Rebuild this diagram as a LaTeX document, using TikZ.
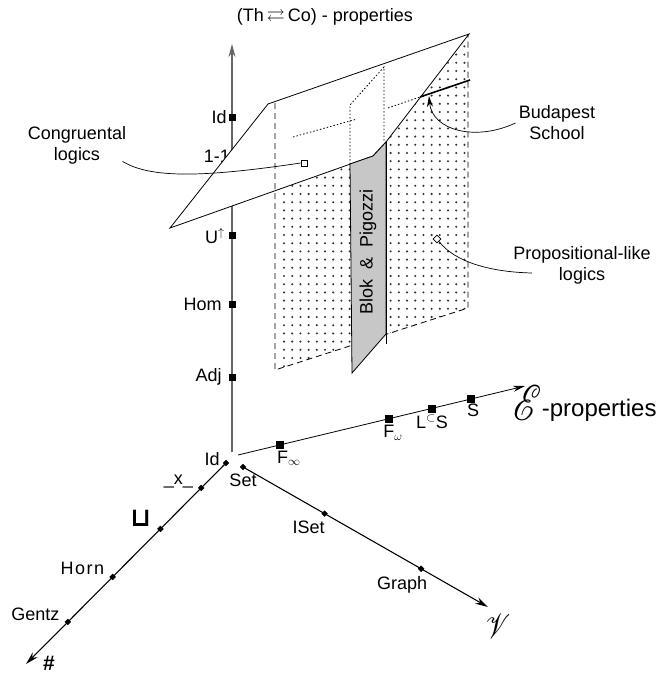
\documentclass[tikz,border=0pt]{standalone}
\usepackage{fontspec}
\setmainfont{Liberation Sans}
\newfontfamily\symfam{DejaVu Sans}
\usepackage{graphicx}
\usepackage{amssymb}
\usepackage{mathrsfs}
\usetikzlibrary{shapes.geometric, arrows.meta, positioning, calc}

\begin{document}
\begin{tikzpicture}[x=1pt, y=-1pt,
  font=\fontsize{18}{21}\selectfont,
  axis/.style={line width=1.1pt, -{Stealth[length=13pt,width=7pt]}},
  sqmark/.style={draw, fill=black, minimum size=6pt, inner sep=0pt},
  dmark/.style={diamond, draw, fill=black, minimum size=6pt, inner sep=0pt},
  hidden/.style={dash pattern=on 6pt off 4pt, line width=0.8pt},
  behind/.style={dash pattern=on 1.5pt off 2pt, line width=0.8pt},
  lbl/.style={inner sep=1pt},
  pointer/.style={line width=0.7pt}
]
\useasboundingbox (0,0) rectangle (657,677);

% vertical axis
\coordinate (vo) at (232,452);
\coordinate (vtip) at (232,44);
\draw[axis, black!60] (vo) -- (vtip);
\node[sqmark] (tid)  at (232,117) {};
\node[sqmark] (tup)  at (232,235) {};
\node[sqmark] (thom) at (232,304) {};
\node[sqmark] (tadj) at (232,377) {};
\coordinate (toneone) at (232,156);
\node[lbl, left=1pt of tid]  {Id};
\node[lbl, left=1pt of toneone] {1-1};
\node[lbl, left=3pt of tup, yshift=-1pt] {U$^{\uparrow}$};
\node[lbl, left=6pt of thom] {Hom};
\node[lbl, left=6pt of tadj] {Adj};

% dotted vertical plane
\coordinate (vpa) at (275,103);
\coordinate (vpb) at (468,34);
\coordinate (vpc) at (468,308);
\coordinate (vpd) at (275,370);
\begin{scope}
  \clip (vpa) -- (vpb) -- (vpc) -- (vpd) -- cycle;
  \foreach \i in {0,...,23}
    \foreach \j in {0,...,42}
      \fill[black!80] (284+8.2*\i, 30+8.2*\j) circle (1.15pt);
\end{scope}

% tilted plane
\coordinate (pl)  at (170,228);
\coordinate (ptl) at (268,104);
\coordinate (ptr) at (469,34);
\coordinate (pk1) at (386,142);
\coordinate (pk2) at (373,156);
\filldraw[fill=white, line width=0.8pt] (pl) -- (ptl) -- (ptr) -- (pk1) -- (pk2) -- cycle;

% hidden edges
\draw[hidden] (vpa) -- (vpd) -- (vpc) -- (vpb);
\coordinate (gsa) at (350,105);
\coordinate (gsb) at (384,67);
\draw[behind] (350,164) -- (gsa) -- (gsb) -- (384,142);
\coordinate (bud) at (420,97);
\draw[behind] (293,137) -- (357,119);
\draw[behind] (388,108) -- (bud);
\draw[line width=1.6pt] (bud) -- (470,80);

% Blok & Pigozzi strip
\filldraw[fill=black!22, line width=0.8pt] (352,373) -- (350,164) -- (pk2) -- (pk1) -- (386,334) -- cycle;
\draw[line width=1pt] (pk1) -- (386,344);
\node[rotate=90] (blok) at (368,252) {Blok~~\&~~Pigozzi};

% E axis
\coordinate (eo) at (238,455);
\coordinate (etip) at (525,386);
\draw[line width=0.8pt, -{Stealth[length=12pt,width=6pt]}] (eo) -- (etip);
\node[sqmark, minimum size=7pt] (finf) at ($(eo)!0.146!(etip)$) {};
\node[sqmark, minimum size=7pt] (fom)  at ($(eo)!0.526!(etip)$) {};
\node[sqmark, minimum size=7pt] (lcs)  at ($(eo)!0.676!(etip)$) {};
\node[sqmark, minimum size=7pt] (ss)   at ($(eo)!0.812!(etip)$) {};
\node[lbl, below=1pt of finf, xshift=9pt] {F$_\infty$};
\node[lbl, below=2pt of fom, xshift=4pt] {F$_\omega$};
\node[lbl, below=2pt of lcs] {L$^{\subset}$S};
\node[lbl, below=0pt of ss, xshift=2pt] {S};
\node (eprop) at (585,403) {\raisebox{-4pt}{\scalebox{2.2}[2.9]{$\mathscr{E}$}}{\fontsize{24}{24}\selectfont-properties}};

% left diagonal axis
\node[dmark] (lid) at (226,463) {};
\coordinate (ltip) at (26,664);
\draw[axis] (lid) -- (ltip);
\node[dmark] (lx)    at ($(lid)!0.124!(ltip)$) {};
\node[dmark] (lsq)   at ($(lid)!0.328!(ltip)$) {};
\node[dmark] (lhorn) at ($(lid)!0.567!(ltip)$) {};
\node[dmark] (lgen)  at ($(lid)!0.791!(ltip)$) {};
\node[lbl, left=2pt of lid, yshift=4pt] {Id};
\node[lbl, left=4pt of lx, yshift=6pt] {\_x\_};
\node[lbl, left=5pt of lsq, yshift=11pt] {\symfam\bfseries\fontsize{26}{26}\selectfont ⊔};
\node[lbl, left=4pt of lhorn, yshift=9pt] {H\kern1.5pt o\kern1.5pt r\kern1.5pt n};
\node[lbl, left=4pt of lgen, yshift=8pt] {Gentz};
\node[lbl] (hash) at (49,663) {\fontsize{21}{21}\selectfont\textbf{\#}};

% right diagonal axis
\node[dmark] (rset) at (243,467) {};
\coordinate (rtip) at (488,607);
\draw[axis] (rset) -- (rtip);
\node[dmark] (riset)  at ($(rset)!0.333!(rtip)$) {};
\node[dmark] (rgraph) at ($(rset)!0.727!(rtip)$) {};
\node[lbl, below=3pt of rset] {Set};
\node[lbl, below=3pt of riset, xshift=-16pt] {ISet};
\node[lbl, below=3pt of rgraph, xshift=-19pt] {Graph};
\node (vv) at (498,626) {\scalebox{1.6}[2.0]{$\mathscr{V}$}};

% title
\node (title) at (325,17) {(Th\,$\rightleftarrows$\,Co) - properties};

% pointers
\node[align=center] (congr) at (77,145) {Congruental\\logics};
\node[draw, fill=white, line width=0.8pt, minimum size=6pt, inner sep=0pt] (cmark) at (304,163) {};
\draw[pointer] (cmark.west) .. controls (200,178) and (150,178) .. ($(congr.south east)+(-7,-6)$);

\node[align=center] (buda) at (557,123) {Budapest\\School};
\draw[pointer, -{Stealth[length=11pt,width=6pt]}] (buda.west) .. controls (475,142) and (432,130) .. (429,96);

\node[align=center] (prop) at (582,265) {Propositional-like\\logics};
\node[diamond, draw, fill=white, line width=0.8pt, minimum size=8pt, inner sep=0pt] (pmark) at (437,239) {};
\draw[pointer] (pmark) .. controls (455,262) and (490,272) .. ($(prop.west)+(22,8)$);
\end{tikzpicture}
\end{document}
